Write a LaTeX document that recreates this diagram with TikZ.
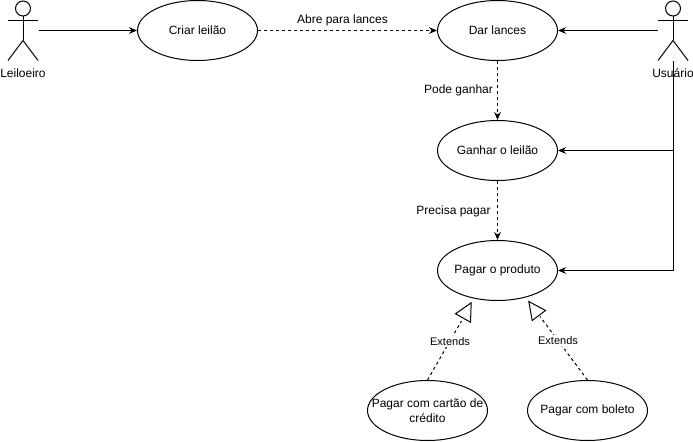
\documentclass[tikz,border=0pt]{standalone}
\usepackage{fontspec}
\setmainfont{Liberation Sans}
\usetikzlibrary{arrows.meta, positioning, shapes.geometric}

\tikzset{
    caso/.style={draw, ellipse, minimum width=90pt, minimum height=45pt, inner sep=-15pt, align=center},
    ator/.style={minimum width=22.5pt, minimum height=45pt, inner sep=0pt},
    rotulo/.style={font=\fontsize{8.25}{10}\selectfont, inner sep=1pt},
    seta/.style={-{Stealth[length=6pt, width=5pt]}},
    tracejado/.style={dash pattern=on 2.25pt off 2.25pt},
}

\begin{document}
\begin{tikzpicture}[x=0.75pt, y=-0.75pt, line width=0.75pt, font=\fontsize{9}{11}\selectfont]
    \useasboundingbox (-0.5,-0.5) rectangle (692.5,441.5);

    % atores
    \foreach \nome/\x/\texto in {leiloeiro/22.5/Leiloeiro, usuario/672.5/Usuário} {
        \node[ator] (\nome) at (\x,30) {};
        \node (\nome-txt) at (\x,73) {\texto};
        \draw (\x,8) circle (7.5);
        \draw (\x,15.5) -- (\x,40);
        \draw (\x-15,20) -- (\x+15,20);
        \draw (\x-15,60) -- (\x,40) -- (\x+15,60);
    }

    % casos de uso
    \node[caso] (criar) at (197,30) {Criar leilão};
    \node[caso] (dar) at (497,30) {Dar lances};
    \node[caso] (ganhar) at (497,150) {Ganhar o leilão};
    \node[caso] (produto) at (497,270) {Pagar o produto};
    \node[caso] (cartao) at (427,410) {Pagar com cartão de\\crédito};
    \node[caso] (boleto) at (587,410) {Pagar com boleto};

    % ligações dos atores
    \draw[seta] (leiloeiro.east) -- (criar.west);
    \draw[seta] (usuario.west) -- (dar.east);
    \draw[seta] (usuario.south) |- (ganhar.east);
    \draw[seta] (usuario.south) |- (produto.east);

    % fluxo
    \draw[seta, tracejado] (criar.east) -- (dar.west);
    \draw[seta, tracejado] (dar.south) -- (ganhar.north);
    \draw[seta, tracejado] (ganhar.south) -- (produto.north);
    \node (abre) at (342,20) {Abre para lances};
    \node (pode) at (458,90) {Pode ganhar};
    \node (precisa) at (453,211) {Precisa pagar};

    % extensões
    \coordinate (fimE) at (461,320.5);
    \coordinate (fimD) at (539.5,316);
    \draw[tracejado] (cartao.north) -- (fimE);
    \draw[tracejado] (boleto.north) -- (fimD);
    \draw (470.7,302.3) -- (455,313.3) -- (470,321.7) -- cycle;
    \draw (528.3,301) -- (545,310) -- (531.7,320) -- cycle;
    \node[rotulo, fill=white] (extE) at (449.5,341) {Extends};
    \node[rotulo, fill=white] (extD) at (557.5,340) {Extends};
\end{tikzpicture}
\end{document}
